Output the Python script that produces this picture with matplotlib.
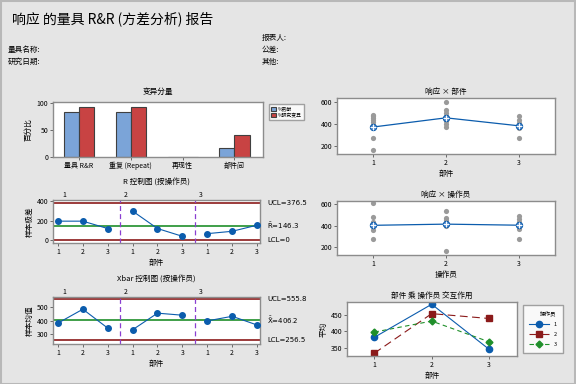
import matplotlib
matplotlib.use("Agg")
import matplotlib.pyplot as plt
from matplotlib.patches import Rectangle

plt.rcParams["font.family"] = ["Noto Sans CJK SC", "DejaVu Sans"]
plt.rcParams["mathtext.fontset"] = "dejavusans"
plt.rcParams["axes.unicode_minus"] = False

W, H = 576, 384

COMPONENTS = ["量具 R&R", "重复 (Repeat)", "再现性", "部件间"]
PCT_CONTRIB = [83.3, 83.3, 0.0, 16.7]
PCT_STUDY = [91.3, 91.3, 0.0, 40.9]

PARTS = [1, 2, 3]
OPERATORS = ["1", "2", "3"]
# one value per (operator, part), operator-major
SAMPLE_RANGE = [195, 195, 120, 297, 120, 41, 68, 92, 154]
SAMPLE_MEAN = [382, 484, 345, 333, 455, 440, 398, 432, 368]
R_UCL, R_BAR, R_LCL = 376.5, 146.3, 0.0
X_UCL, X_BAR, X_LCL = 555.8, 406.2, 256.5

PART1_OBS = [483, 468, 452, 437, 421, 391, 268, 160]
PART2_OBS = [600, 529, 498, 468, 422, 400, 375]
PART3_OBS = [468, 437, 406, 382, 360, 268]
PART_MEANS = [371, 455, 382]

OP1_OBS = [610, 480, 440, 410, 363, 276]
OP2_OBS = [538, 470, 450, 425, 394, 170]
OP3_OBS = [487, 462, 440, 410, 370, 276]
OP_MEANS = [405, 416, 406]

BG = "#e5e5e5"
SPINE = "#8c8c8c"
BLUE = "#0b5cad"
DARKRED = "#8b1a1a"
GREEN = "#1f8f2a"
PURPLE = "#8a3fd1"


def box(x0, y0, x1, y1):
    return [x0 / W, 1 - y1 / H, (x1 - x0) / W, (y1 - y0) / H]


def style(ax):
    ax.set_facecolor("white")
    for s in ax.spines.values():
        s.set_color(SPINE)
        s.set_linewidth(1.0)
    ax.tick_params(labelsize=5, length=2, width=0.6, color="#555555", pad=1.5)


fig = plt.figure(figsize=(W / 100, H / 100), dpi=100, facecolor=BG)
fig.patches.append(Rectangle((0.001, 0.001), 0.997, 0.997, transform=fig.transFigure,
                             fill=False, edgecolor="#b8b8b8", linewidth=1.5))

fig.text(12 / W, 1 - 19 / H, "响应 的量具 R&R (方差分析) 报告", fontsize=10, va="center")
fig.text(8 / W, 1 - 50 / H, "量具名称:", fontsize=5.5, va="center")
fig.text(8 / W, 1 - 62 / H, "研究日期:", fontsize=5.5, va="center")
fig.text(262 / W, 1 - 38 / H, "报表人:", fontsize=5.5, va="center")
fig.text(262 / W, 1 - 50 / H, "公差:", fontsize=5.5, va="center")
fig.text(262 / W, 1 - 62 / H, "其他:", fontsize=5.5, va="center")

# components of variation
ax = fig.add_axes(box(53, 102, 263, 157))
style(ax)
pos = list(range(len(COMPONENTS)))
bw = 0.29
ax.bar([p - bw / 2 for p in pos], PCT_CONTRIB, bw, color="#7ba4d8", edgecolor="#404040",
       linewidth=0.8, label="%贡献")
ax.bar([p + bw / 2 for p in pos], PCT_STUDY, bw, color="#c84343", edgecolor="#404040",
       linewidth=0.8, label="%研究变异")
ax.set_xlim(-0.5, 3.55)
ax.set_ylim(0, 101)
ax.set_yticks([0, 50, 100])
ax.set_xticks(pos)
ax.set_xticklabels(COMPONENTS)
ax.set_ylabel("百分比", fontsize=5.5, labelpad=3)
ax.set_title("变异分量", fontsize=5.5, pad=6)
fig.legend(loc="upper left", bbox_to_anchor=(267 / W, 1 - 102 / H), fontsize=3.5,
           frameon=True, fancybox=False, edgecolor=SPINE, handlelength=1.0,
           handleheight=1.0, handletextpad=0.4, borderpad=0.4, labelspacing=0.3)

# R chart and Xbar chart by operator
x_idx = list(range(1, 10))
group_label_x = [1.25, 3.73, 6.74]


def control_chart(rect, values, ucl, cl, lcl, ylim, yticks, ylabel, title, labels):
    ax = fig.add_axes(box(*rect))
    style(ax)
    for k in range(3):
        xs = x_idx[3 * k:3 * k + 3]
        ax.plot(xs, values[3 * k:3 * k + 3], color=BLUE, lw=0.8, marker="o", ms=4, zorder=4)
    ax.axhline(ucl, color=DARKRED, lw=1.2)
    ax.axhline(lcl, color=DARKRED, lw=1.2)
    ax.axhline(cl, color=GREEN, lw=1.2)
    for sep in (3.5, 6.5):
        ax.axvline(sep, color=PURPLE, lw=0.9, ls=(0, (4, 2.5)))
    ax.set_xlim(0.8, 9.12)
    ax.set_ylim(*ylim)
    ax.set_yticks(yticks)
    ax.set_xticks(x_idx)
    ax.set_xticklabels([str(p) for _ in OPERATORS for p in PARTS])
    ax.set_xlabel("部件", fontsize=5.5, labelpad=2)
    ax.set_ylabel(ylabel, fontsize=5.5, labelpad=2)
    ax.set_title(title, fontsize=5.5, pad=11)
    for gx, op in zip(group_label_x, OPERATORS):
        ax.text(gx, ylim[1] + (ylim[1] - ylim[0]) * 0.03, op, fontsize=5,
                ha="center", va="bottom")
    tx = 267 / W
    for val, txt in zip((ucl, cl, lcl), labels):
        y = ax.transData.transform((1, val))[1]
        fy = fig.transFigure.inverted().transform((0, y))[1]
        fig.text(tx, fy, txt, fontsize=5, va="center", family="DejaVu Sans")
    return ax


control_chart((53, 200, 260, 243), SAMPLE_RANGE, R_UCL, R_BAR, R_LCL, (-27, 410),
              [0, 200, 400], "样本极差", "R 控制图 (按操作员)",
              [f"UCL={R_UCL}", r"$\bar{\mathrm{R}}$" + f"={R_BAR}", "LCL=0"])
control_chart((53, 297, 260, 344), SAMPLE_MEAN, X_UCL, X_BAR, X_LCL, (228, 574),
              [300, 400, 500], "样本均值", "Xbar 控制图 (按操作员)",
              [f"UCL={X_UCL}", r"$\bar{\bar{\mathrm{X}}}$" + f"={X_BAR}", f"LCL={X_LCL}"])

# response by part / operator


def by_factor(rect, groups, means, ylim, xlabel, title):
    ax = fig.add_axes(box(*rect))
    style(ax)
    for i, obs in enumerate(groups):
        ax.scatter([i + 1] * len(obs), obs, s=14, color="#9a9a9a", zorder=2, linewidths=0)
    ax.plot([1, 2, 3], means, color=BLUE, lw=0.9, zorder=3)
    ax.plot([1, 2, 3], means, ls="none", marker="o", ms=4.5, mfc="#6f9fd8", mec=BLUE,
            mew=0.8, zorder=4)
    ax.plot([1, 2, 3], means, ls="none", marker="+", ms=4.5, mec="white", mew=0.7, zorder=5)
    ax.set_xlim(0.5, 3.5)
    ax.set_ylim(*ylim)
    ax.set_yticks([200, 400, 600])
    ax.set_xticks([1, 2, 3])
    ax.set_xlabel(xlabel, fontsize=5.5, labelpad=2)
    ax.set_title(title, fontsize=5.5, pad=3)
    return ax


by_factor((337, 98, 555, 154), [PART1_OBS, PART2_OBS, PART3_OBS], PART_MEANS, (123, 637),
          "部件", "响应 × 部件")
by_factor((337, 201, 555, 255), [OP1_OBS, OP2_OBS, OP3_OBS], OP_MEANS, (129, 631),
          "操作员", "响应 × 操作员")

# interaction
ax = fig.add_axes(box(347, 302, 517, 356))
style(ax)
ax.plot(PARTS, SAMPLE_MEAN[0:3], color=BLUE, lw=0.8, marker="o", ms=4.5, label=OPERATORS[0])
ax.plot(PARTS, SAMPLE_MEAN[3:6], color=DARKRED, lw=0.8, ls=(0, (7, 4)), marker="s", ms=4.5,
        label=OPERATORS[1])
ax.plot(PARTS, SAMPLE_MEAN[6:9], color=GREEN, lw=0.8, ls=(0, (4, 3)), marker="D", ms=3.5,
        label=OPERATORS[2])
ax.set_xlim(0.52, 3.49)
ax.set_ylim(324, 491)
ax.set_yticks([350, 400, 450])
ax.set_xticks(PARTS)
ax.set_xlabel("部件", fontsize=5.5, labelpad=2)
ax.set_ylabel("平均", fontsize=5.5, labelpad=2)
ax.set_title("部件 乘 操作员 交互作用", fontsize=5.5, pad=3)
leg = fig.legend(*ax.get_legend_handles_labels(), loc="upper left",
                 bbox_to_anchor=(520 / W, 1 - 302 / H), title="操作员", fontsize=4,
                 title_fontsize=4, frameon=True, fancybox=False, edgecolor=SPINE,
                 handlelength=3.6, borderpad=1.1, labelspacing=0.9, alignment="right")
leg.get_frame().set_facecolor("white")

fig.savefig("out.png", dpi=100, facecolor=BG)
